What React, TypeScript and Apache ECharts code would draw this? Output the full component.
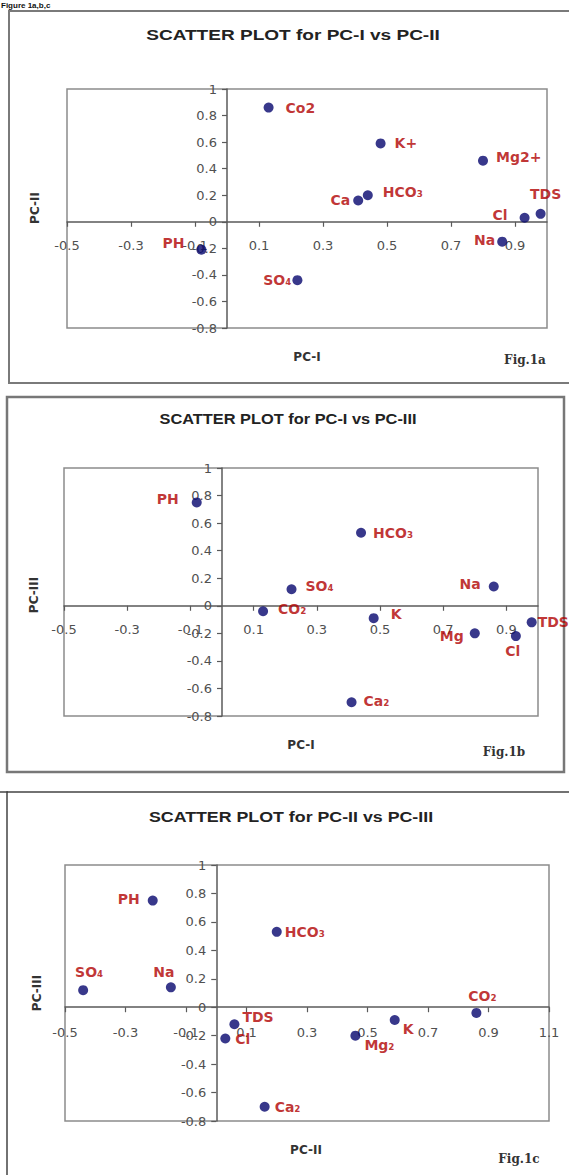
import React, { useEffect, useRef } from 'react';
import * as echarts from 'echarts';

// ---- data ----
const names1 = ['Co2', 'K+', 'Mg2+', 'HCO₃', 'Ca', 'TDS', 'Cl', 'Na', 'PH', 'SO₄'];
const names2 = ['CO₂', 'K', 'Mg', 'HCO₃', 'Ca₂', 'TDS', 'Cl', 'Na', 'PH', 'SO₄'];
const names3 = ['CO₂', 'K', 'Mg₂', 'HCO₃', 'Ca₂', 'TDS', 'Cl', 'Na', 'PH', 'SO₄'];
const pcI = [0.13, 0.48, 0.80, 0.44, 0.41, 0.98, 0.93, 0.86, -0.08, 0.22];
const pcII = [0.86, 0.59, 0.46, 0.20, 0.16, 0.06, 0.03, -0.15, -0.21, -0.44];
const pcIII = [-0.04, -0.09, -0.20, 0.53, -0.70, -0.12, -0.22, 0.14, 0.75, 0.12];

const xTicksAB = [-0.5, -0.3, -0.1, 0.1, 0.3, 0.5, 0.7, 0.9];
const xTicksC = [-0.5, -0.3, -0.1, 0.1, 0.3, 0.5, 0.7, 0.9, 1.1];
const yTicks = [-0.8, -0.6, -0.4, -0.2, 0, 0.2, 0.4, 0.6, 0.8, 1];

const titles = ['SCATTER PLOT for PC-I vs PC-II', 'SCATTER PLOT for PC-I vs PC-III', 'SCATTER PLOT for PC-II vs PC-III'];
const xNames = ['PC-I', 'PC-I', 'PC-II'];
const yNames = ['PC-II', 'PC-III', 'PC-III'];
const figNames = ['Fig.1a', 'Fig.1b', 'Fig.1c'];

// ---- label placement (position, distance, dx, dy) ----
const place1: any[] = [
  ['right', 12, 0, 0], ['right', 9, 0, 0], ['right', 8, 0, -4], ['right', 10, 0, -3], ['left', 3, 0, -1],
  ['top', 8, 5, 0], ['left', 12, 0, -3], ['left', 2, 0, -2], ['left', 12, 0, -7], ['left', 1, 0, 0],
];
const place2: any[] = [
  ['right', 10, 0, -2], ['right', 12, 0, -4], ['left', 6, 0, 3], ['right', 7, 0, 0], ['right', 7, 0, -1],
  ['right', 1, 0, 0], ['bottom', 3, -3, 0], ['left', 8, 0, -2], ['left', 13, 0, -3], ['right', 9, 0, -3],
];
const place3: any[] = [
  ['top', 5, 6, 0], ['right', 3, 0, 9], ['right', 4, 0, 9], ['right', 3, 0, 0], ['right', 5, 0, 0],
  ['right', 3, 0, -7], ['right', 5, 0, 0], ['top', 3, -7, 0], ['left', 8, 0, -2], ['top', 6, 6, 0],
];

const X_MIN = -0.5;
const Y_MIN = -0.8;
const Y_MAX = 1;

const panels = [
  { names: names1, xs: pcI, ys: pcII, place: place1, grid: { left: 67, top: 89, width: 480, height: 239 }, xMax: 1.0, xTicks: xTicksAB, xMargin: 17,
    title: [293, 35, 1.36], xName: [307, 357], yName: [35, 208], fig: [525, 360] },
  { names: names2, xs: pcI, ys: pcIII, place: place2, grid: { left: 64, top: 468, width: 474, height: 248 }, xMax: 1.0, xTicks: xTicksAB, xMargin: 17,
    title: [288, 419, 1.17], xName: [301, 745], yName: [34, 595], fig: [504, 752] },
  { names: names3, xs: pcII, ys: pcIII, place: place3, grid: { left: 65, top: 865, width: 484, height: 256 }, xMax: 1.1, xTicks: xTicksC, xMargin: 19,
    title: [291, 817, 1.27], xName: [306, 1150], yName: [37, 993], fig: [519, 1159] },
];

const POINT = '#06066e';
const LABEL_RED = '#b00000';
const AXIS_TXT = '#505050';

export default function App() {
  const ref = useRef<HTMLDivElement>(null);
  useEffect(() => {
    if (!ref.current) return;
    const chart = echarts.init(ref.current, null, { renderer: 'svg' });

    const grid = panels.map((p) => ({
      ...p.grid, show: true, borderColor: '#8c8c8c', borderWidth: 1.5, backgroundColor: 'transparent',
    }));
    // axes cross at zero: shift each axis inward from the grid edge
    const xAxis = panels.map((p, i) => ({
      type: 'value', gridIndex: i, min: X_MIN, max: p.xMax, position: 'bottom',
      offset: -p.grid.height * (0 - Y_MIN) / (Y_MAX - Y_MIN),
      axisLine: { onZero: false, lineStyle: { color: '#5a5a5a', width: 1.5 } },
      axisTick: { show: true, customValues: p.xTicks, length: 5, lineStyle: { color: '#5a5a5a', width: 1.2 } },
      axisLabel: { customValues: p.xTicks, margin: p.xMargin, color: AXIS_TXT, fontFamily: 'DejaVu Sans', fontSize: 13 },
      splitLine: { show: false },
    }));
    const yAxis = panels.map((p, i) => ({
      type: 'value', gridIndex: i, min: Y_MIN, max: Y_MAX, position: 'left',
      offset: -p.grid.width * (0 - X_MIN) / (p.xMax - X_MIN),
      axisLine: { onZero: false, lineStyle: { color: '#5a5a5a', width: 1.5 } },
      axisTick: { show: true, customValues: yTicks, length: 5, lineStyle: { color: '#5a5a5a', width: 1.2 } },
      axisLabel: { customValues: yTicks, margin: 10, color: AXIS_TXT, fontFamily: 'DejaVu Sans', fontSize: 13 },
      splitLine: { show: false },
    }));
    const series = panels.map((p, i) => ({
      type: 'scatter', xAxisIndex: i, yAxisIndex: i, symbol: 'circle', symbolSize: 10,
      itemStyle: { color: POINT },
      label: { show: true, formatter: '{b}', color: LABEL_RED, fontFamily: 'DejaVu Sans', fontWeight: 'bold', fontSize: 14 },
      data: p.names.map((n, k) => ({
        name: n, value: [p.xs[k], p.ys[k]],
        label: { position: p.place[k][0], distance: p.place[k][1], offset: [p.place[k][2], p.place[k][3]] },
      })),
    }));

    const txt = (text: string, x: number, y: number, font: string, fill: string, extra: any = {}) => ({
      type: 'text', x, y, ...extra,
      style: { text, font, fill, textAlign: 'center', textVerticalAlign: 'middle', align: 'center', verticalAlign: 'middle' },
    });

    const graphic: any[] = [
      { type: 'rect', shape: { x: 9, y: 11, width: 600, height: 372 }, style: { fill: 'none', stroke: '#7a7a7a', lineWidth: 2 }, z: -1 },
      { type: 'rect', shape: { x: 7, y: 397, width: 557, height: 375 }, style: { fill: 'none', stroke: '#777777', lineWidth: 2.5 }, z: -1 },
      { type: 'rect', shape: { x: 7, y: 792, width: 600, height: 500 }, style: { fill: 'none', stroke: '#444444', lineWidth: 1.5 }, z: -1 },
      { type: 'line', shape: { x1: 0, y1: 792, x2: 8, y2: 792 }, style: { stroke: '#444444', lineWidth: 1.5 } },
      { type: 'text', x: 1, y: 1, style: { text: 'Figure 1a,b,c', font: 'bold 8px "Liberation Sans"', fill: '#111', textAlign: 'left', textVerticalAlign: 'top', align: 'left', verticalAlign: 'top' } },
    ];
    panels.forEach((p, i) => {
      graphic.push(txt(titles[i], p.title[0], p.title[1], 'bold 14px "Liberation Sans"', '#222222', { scaleX: p.title[2] }));
      graphic.push(txt(xNames[i], p.xName[0], p.xName[1], 'bold 12px "DejaVu Sans"', '#333333'));
      graphic.push(txt(yNames[i], p.yName[0], p.yName[1], 'bold 12px "DejaVu Sans"', '#333333', { rotation: Math.PI / 2 }));
      graphic.push(txt(figNames[i], p.fig[0], p.fig[1], 'bold 12px "DejaVu Serif"', '#333333'));
    });

    chart.setOption({
      animation: false,
      backgroundColor: '#ffffff',
      grid, xAxis, yAxis, series, graphic,
    });
    return () => chart.dispose();
  }, []);
  return <div ref={ref} style={{ position: 'absolute', left: 0, top: 0, width: 569, height: 1175 }} />;
}
